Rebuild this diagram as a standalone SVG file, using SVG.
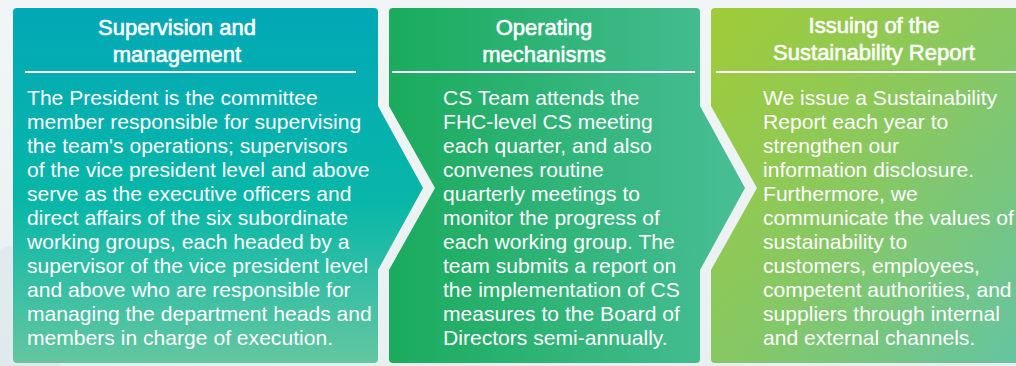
<svg xmlns="http://www.w3.org/2000/svg" width="1016" height="366" viewBox="0 0 1016 366">
  <defs>
    <linearGradient id="bg" x1="0" y1="0" x2="0" y2="1">
      <stop offset="0" stop-color="#f1f5f5"/>
      <stop offset="1" stop-color="#e9f0f1"/>
    </linearGradient>
    <linearGradient id="g1" x1="0" y1="0" x2="0" y2="1">
      <stop offset="0" stop-color="#02a8b6"/>
      <stop offset="0.55" stop-color="#08b7a8"/>
      <stop offset="1" stop-color="#64c6a0"/>
    </linearGradient>
    <linearGradient id="g2" x1="0" y1="0" x2="1" y2="0">
      <stop offset="0" stop-color="#1aab5d"/>
      <stop offset="1" stop-color="#49be97"/>
    </linearGradient>
    <linearGradient id="g3" x1="0" y1="0" x2="1" y2="1">
      <stop offset="0" stop-color="#a0cb37"/>
      <stop offset="0.5" stop-color="#88c862"/>
      <stop offset="1" stop-color="#64c4a2"/>
    </linearGradient>
    <style>
      .title { font-family: "Liberation Sans", Arial, sans-serif; font-size: 22px; fill: #ffffff; stroke: #ffffff; stroke-width: 0.6px; text-anchor: middle; }
      .body { font-family: "Liberation Sans", Arial, sans-serif; font-size: 21.1px; fill: #ffffff; }
      .rule { stroke: #ffffff; stroke-width: 2; }
    </style>
  </defs>

  <rect x="0" y="0" width="1016" height="366" fill="url(#bg)"/>
  <path d="M0,250 C20,235 40,270 60,300 L60,366 L0,366 Z" fill="#dbe6e9" opacity="0.6"/>

  <g id="connectors"></g>

  <g id="node-supervision">
    <path d="M17,8 H374 Q378,8 378,12 V106 L423,188 L378,270 V359 Q378,363 374,363 H17 Q13,363 13,359 V12 Q13,8 17,8 Z" fill="url(#g1)"/>
    <text class="title" x="177" y="35">Supervision and</text>
    <text class="title" x="177" y="62">management</text>
    <line class="rule" x1="25" y1="72" x2="356" y2="72"/>
    <text class="body" x="27" y="105">
      <tspan x="27" dy="0">The President is the committee</tspan>
      <tspan x="27" dy="24">member responsible for supervising</tspan>
      <tspan x="27" dy="24">the team's operations; supervisors</tspan>
      <tspan x="27" dy="24">of the vice president level and above</tspan>
      <tspan x="27" dy="24">serve as the executive officers and</tspan>
      <tspan x="27" dy="24">direct affairs of the six subordinate</tspan>
      <tspan x="27" dy="24">working groups, each headed by a</tspan>
      <tspan x="27" dy="24">supervisor of the vice president level</tspan>
      <tspan x="27" dy="24">and above who are responsible for</tspan>
      <tspan x="27" dy="24">managing the department heads and</tspan>
      <tspan x="27" dy="24">members in charge of execution.</tspan>
    </text>
  </g>

  <g id="node-operating">
    <path d="M393,8 H696 Q700,8 700,12 V106 L745,188 L700,270 V359 Q700,363 696,363 H393 Q389,363 389,359 V270 L435,188 L389,106 V12 Q389,8 393,8 Z" fill="url(#g2)"/>
    <text class="title" x="544" y="35">Operating</text>
    <text class="title" x="544" y="62">mechanisms</text>
    <line class="rule" x1="392" y1="72" x2="695" y2="72"/>
    <text class="body" x="443" y="105">
      <tspan x="443" dy="0">CS Team attends the</tspan>
      <tspan x="443" dy="24">FHC-level CS meeting</tspan>
      <tspan x="443" dy="24">each quarter, and also</tspan>
      <tspan x="443" dy="24">convenes routine</tspan>
      <tspan x="443" dy="24">quarterly meetings to</tspan>
      <tspan x="443" dy="24">monitor the progress of</tspan>
      <tspan x="443" dy="24">each working group. The</tspan>
      <tspan x="443" dy="24">team submits a report on</tspan>
      <tspan x="443" dy="24">the implementation of CS</tspan>
      <tspan x="443" dy="24">measures to the Board of</tspan>
      <tspan x="443" dy="24">Directors semi-annually.</tspan>
    </text>
  </g>

  <g id="node-report">
    <path d="M715,8 H1020 V363 H715 Q711,363 711,359 V270 L757,188 L711,106 V12 Q711,8 715,8 Z" fill="url(#g3)"/>
    <text class="title" x="874" y="33">Issuing of the</text>
    <text class="title" x="874" y="60">Sustainability Report</text>
    <line class="rule" x1="716" y1="72" x2="1016" y2="72"/>
    <text class="body" x="763" y="105">
      <tspan x="763" dy="0">We issue a Sustainability</tspan>
      <tspan x="763" dy="24">Report each year to</tspan>
      <tspan x="763" dy="24">strengthen our</tspan>
      <tspan x="763" dy="24">information disclosure.</tspan>
      <tspan x="763" dy="24">Furthermore, we</tspan>
      <tspan x="763" dy="24">communicate the values of</tspan>
      <tspan x="763" dy="24">sustainability to</tspan>
      <tspan x="763" dy="24">customers, employees,</tspan>
      <tspan x="763" dy="24">competent authorities, and</tspan>
      <tspan x="763" dy="24">suppliers through internal</tspan>
      <tspan x="763" dy="24">and external channels.</tspan>
    </text>
  </g>
</svg>
